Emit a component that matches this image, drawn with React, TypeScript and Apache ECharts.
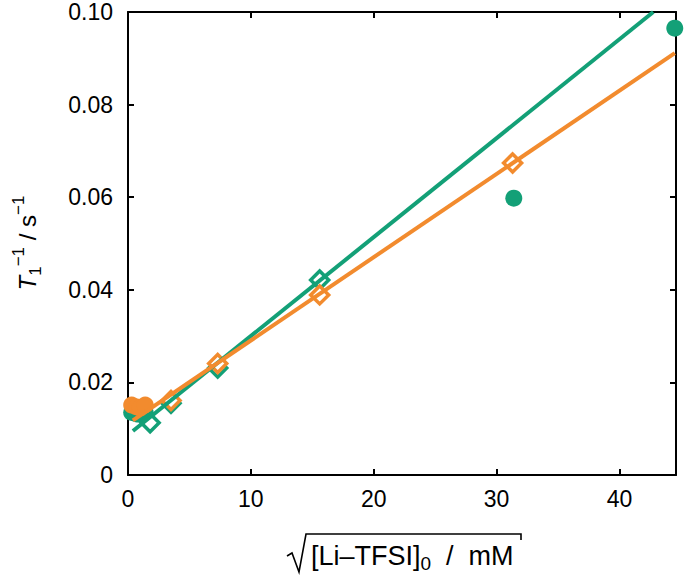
import React, { useEffect, useRef } from "react";
import * as echarts from "echarts";

const GREEN = "#13a077";
const ORANGE = "#f28b2e";

const xTicks = [0, 10, 20, 30, 40];
const yTicks = [0, 0.02, 0.04, 0.06, 0.08, 0.1];

const greenCircles: number[][] = [
  [0.3, 0.0135], [0.7, 0.0132], [1.0, 0.0131], [1.4, 0.0135],
  [31.4, 0.0598], [44.5, 0.0965],
];
const orangeCircles: number[][] = [
  [0.3, 0.0151], [0.7, 0.0147], [1.0, 0.0145], [1.4, 0.0151],
];
const greenDiamonds: number[][] = [
  [1.8, 0.0113], [3.5, 0.0155], [7.3, 0.0231], [15.6, 0.0421],
];
const orangeDiamonds: number[][] = [
  [3.5, 0.0161], [7.3, 0.0241], [15.6, 0.0389], [31.3, 0.0674],
];
const greenFit: number[][] = [[0.4, 0.0095], [42.75, 0.1]];
const orangeFit: number[][] = [[0.4, 0.0118], [44.5, 0.0911]];

export default function App() {
  const ref = useRef<HTMLDivElement>(null);
  useEffect(() => {
    if (!ref.current) return;
    const chart = echarts.init(ref.current, null, { renderer: "svg" });
    const axisLine = { show: true, onZero: false, lineStyle: { color: "#000", width: 2 } };
    const axisTick = { show: true, inside: true, length: 6, lineStyle: { color: "#000", width: 2 } };
    const font = "Liberation Sans";
    chart.setOption({
      animation: false,
      backgroundColor: "#fff",
      grid: { left: 128, right: 9, top: 12, bottom: 101 },
      xAxis: [
        {
          type: "value", min: 0, max: 44.6, interval: 10,
          axisLine, axisTick, splitLine: { show: false },
          axisLabel: {
            color: "#000", fontSize: 23, fontFamily: font, margin: 12,
            formatter: (v: number) => (xTicks.includes(v) ? String(v) : ""),
          },
        },
        {
          type: "value", position: "top", min: 0, max: 44.6, interval: 10,
          axisLine, axisTick, splitLine: { show: false }, axisLabel: { show: false },
        },
      ],
      yAxis: [
        {
          type: "value", min: 0, max: 0.1, interval: 0.02,
          axisLine, axisTick, splitLine: { show: false },
          axisLabel: {
            color: "#000", fontSize: 23, fontFamily: font, margin: 15,
            formatter: (v: number) => {
              const t = yTicks.find((y) => Math.abs(y - v) < 1e-9);
              if (t === undefined) return "";
              return t === 0 ? "0" : t.toFixed(2);
            },
          },
        },
        {
          type: "value", position: "right", min: 0, max: 0.1, interval: 0.02,
          axisLine, axisTick, splitLine: { show: false }, axisLabel: { show: false },
        },
      ],
      series: [
        {
          type: "scatter", data: greenCircles, symbol: "circle", symbolSize: 17,
          itemStyle: { color: GREEN, opacity: 1 }, z: 2,
        },
        {
          type: "scatter", data: orangeCircles, symbol: "circle", symbolSize: 17,
          itemStyle: { color: ORANGE, opacity: 1 }, z: 3,
        },
        {
          type: "scatter", data: greenDiamonds, symbol: "diamond", symbolSize: 18,
          itemStyle: { color: "#fff", borderColor: GREEN, borderWidth: 3.5, opacity: 1 }, z: 4,
        },
        {
          type: "scatter", data: orangeDiamonds, symbol: "diamond", symbolSize: 18,
          itemStyle: { color: "#fff", borderColor: ORANGE, borderWidth: 3.5, opacity: 1 }, z: 4,
        },
        {
          type: "line", data: greenFit, showSymbol: false, symbol: "none",
          lineStyle: { color: GREEN, width: 4 }, z: 5, clip: true,
        },
        {
          type: "line", data: orangeFit, showSymbol: false, symbol: "none",
          lineStyle: { color: ORANGE, width: 4 }, z: 5, clip: true,
        },
      ],
      graphic: [
        {
          type: "text",
          x: 27, y: 243, rotation: Math.PI / 2,
          style: {
            text: "{it|T}{sub|1}{sup|−1}{n| / s}{sup|−1}",
            align: "center", verticalAlign: "middle",
            fill: "#000",
            rich: {
              it: { fontSize: 24, fontStyle: "italic", fontFamily: font, fill: "#000", verticalAlign: "middle", lineHeight: 34 },
              n: { fontSize: 24, fontFamily: font, fill: "#000", verticalAlign: "middle", lineHeight: 34 },
              sub: { fontSize: 17, fontFamily: font, fill: "#000", verticalAlign: "bottom", lineHeight: 34 },
              sup: { fontSize: 17, fontFamily: font, fill: "#000", verticalAlign: "top", lineHeight: 34 },
            },
          },
        },
        {
          type: "polyline",
          shape: { points: [[287, 556], [292, 553], [299, 572], [306, 534], [521, 534], [521, 540]] },
          style: { stroke: "#000", lineWidth: 1.6, fill: null },
        },
        {
          type: "text",
          x: 311, y: 556,
          style: {
            text: "{n|[Li–TFSI]}{sub|0}{n|  /  mM}",
            align: "left", verticalAlign: "middle",
            fill: "#000",
            rich: {
              n: { fontSize: 27, fontFamily: font, fill: "#000", verticalAlign: "middle", lineHeight: 34 },
              sub: { fontSize: 19, fontFamily: font, fill: "#000", verticalAlign: "bottom", lineHeight: 34 },
            },
          },
        },
      ],
    });
    return () => chart.dispose();
  }, []);
  return (
    <div
      ref={ref}
      style={{ position: "absolute", left: 0, top: 0, width: 685, height: 576 }}
    />
  );
}
